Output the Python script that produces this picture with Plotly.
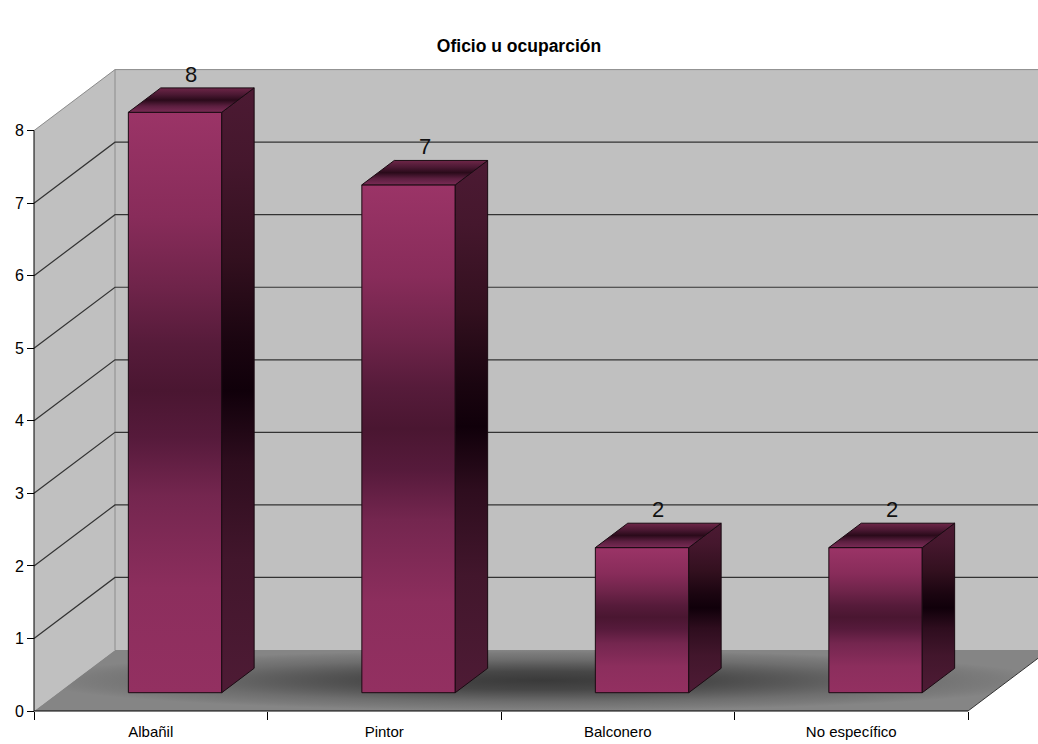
import plotly.graph_objects as go

# ---- data -------------------------------------------------------------
categories = ["Albañil", "Pintor", "Balconero", "No específico"]
values = [8, 7, 2, 2]
y_ticks = [0, 1, 2, 3, 4, 5, 6, 7, 8]
chart_title = "Oficio u ocuparción"

# ---- oblique "3-D" projection ------------------------------------------
# A point (category c, value v, depth d in 0..1) is drawn at
# (c + KX*d, v + KY*d) on ordinary 2-D axes.
KX = 81 / 233.5
KY = 61 / 72.55
YMAX = y_ticks[-1]
N = len(categories)
BAR_HALF = 0.2          # half bar width, in categories
D0, D1 = 0.3, 0.7       # bar depth range

FONT = "Liberation Sans, Arial, sans-serif"


def proj(c, v, d):
    return c + KX * d, v + KY * d


def poly(points, close=True):
    xs, ys = [], []
    for p in points:
        x, y = proj(*p)
        xs.append(x)
        ys.append(y)
    if close:
        xs.append(xs[0])
        ys.append(ys[0])
    return xs, ys


def segments(list_of_paths):
    xs, ys = [], []
    for path in list_of_paths:
        px, py = poly(path, close=False)
        xs += px + [None]
        ys += py + [None]
    return xs, ys


fig = go.Figure()


def add_fill(points, color=None, gradient=None, line_color=None, line_width=0):
    xs, ys = poly(points)
    kw = dict(x=xs, y=ys, mode="lines", fill="toself", hoverinfo="skip",
              showlegend=False)
    if line_color:
        kw["line"] = dict(color=line_color, width=line_width)
    else:
        kw["line"] = dict(width=0, color="rgba(0,0,0,0)")
    if gradient:
        kw["fillgradient"] = gradient
    else:
        kw["fillcolor"] = color
    fig.add_trace(go.Scatter(**kw))


def add_lines(paths, color, width):
    xs, ys = segments(paths)
    fig.add_trace(go.Scatter(x=xs, y=ys, mode="lines", hoverinfo="skip",
                             showlegend=False,
                             line=dict(color=color, width=width)))


# walls
add_fill([(0, 0, 0), (0, YMAX, 0), (0, YMAX, 1), (0, 0, 1)], color="#c0c0c0")
add_fill([(0, 0, 1), (0, YMAX, 1), (N, YMAX, 1), (N, 0, 1)], color="#c0c0c0")

# floor with a soft radial shading
add_fill([(0, 0, 0), (N, 0, 0), (N, 0, 1), (0, 0, 1)],
         gradient=dict(type="radial",
                       colorscale=[[0.0, "#3a3a3a"], [0.3, "#474747"],
                                   [0.5, "#5a5a5a"], [0.7, "#6e6e6e"],
                                   [0.9, "#7c7c7c"], [1.0, "#858585"]]))

# wall borders
add_lines([[(0, YMAX, 0), (0, YMAX, 1), (N, YMAX, 1)],
           [(0, 0, 1), (0, YMAX, 1)]], "#8c8c8c", 1)

# gridlines along the side and back walls
add_lines([[(0, v, 0), (0, v, 1), (N, v, 1)] for v in y_ticks[1:-1]],
          "#333333", 1.2)

# right edge of the floor
add_lines([[(N, 0, 0), (N, 0, 1)]], "#333333", 1)

# front axis lines
add_lines([[(0, YMAX, 0), (0, 0, 0), (N, 0, 0)]], "#000000", 1)

# ---- bars -------------------------------------------------------------
front_scale = [[0.0, "#933061"], [0.18, "#8c2e5d"], [0.34, "#74264f"],
               [0.44, "#561a3b"], [0.52, "#4a1631"], [0.6, "#561b3a"],
               [0.7, "#6f244a"], [0.82, "#882c5a"], [1.0, "#9b3467"]]
side_scale = [[0.0, "#4e1b35"], [0.22, "#42162c"], [0.38, "#2e0d1e"],
              [0.5, "#10000a"], [0.58, "#1a0510"], [0.72, "#33101f"],
              [0.88, "#45172d"], [1.0, "#4c1a33"]]
top_scale = [[0.0, "#7a2b55"], [0.25, "#5c1f40"], [0.5, "#2a0a1a"],
             [0.72, "#4a1832"], [1.0, "#6e2648"]]
EDGE = "#1a0a12"

for i, val in enumerate(values):
    cx = i + 0.5
    x0, x1 = cx - BAR_HALF, cx + BAR_HALF
    add_fill([(x0, 0, D0), (x1, 0, D0), (x1, val, D0), (x0, val, D0)],
             gradient=dict(type="vertical", colorscale=front_scale),
             line_color=EDGE, line_width=1)
    add_fill([(x1, 0, D0), (x1, 0, D1), (x1, val, D1), (x1, val, D0)],
             gradient=dict(type="vertical", colorscale=side_scale),
             line_color=EDGE, line_width=1)
    add_fill([(x0, val, D0), (x1, val, D0), (x1, val, D1), (x0, val, D1)],
             gradient=dict(type="vertical", colorscale=top_scale),
             line_color=EDGE, line_width=1)
    lx, _ = proj(cx, val, 0.5)
    _, ly = proj(cx, val, D1)
    fig.add_annotation(x=lx, y=ly, xref="x", yref="y", text=str(val),
                       showarrow=False, yanchor="bottom", yshift=-1,
                       font=dict(family=FONT, size=22, color="#111111"))

# ---- axes & layout ----------------------------------------------------
W, H = 1038, 744
ML, MB = 20, 24
SX, SY = 233.5, 72.55
X0 = -(34 - ML) / SX
X1 = X0 + (W - ML) / SX
Y1 = 711 / SY
Y0 = Y1 - (H - MB) / SY

fig.update_layout(
    width=W, height=H, autosize=False,
    margin=dict(l=ML, r=0, t=0, b=MB),
    paper_bgcolor="white", plot_bgcolor="white",
    title=dict(text="<b>" + chart_title + "</b>", x=0.5, xref="container",
               xanchor="center", y=1 - 46 / H, yref="container",
               yanchor="middle",
               font=dict(family=FONT, size=17.5, color="#000000")),
    xaxis=dict(range=[X0, X1], anchor="free", position=(H - MB - 711) / (H - MB),
               tickmode="array", tickvals=[i + 0.5 for i in range(N)],
               ticktext=categories, ticks="", showgrid=False,
               zeroline=False, showline=False, fixedrange=True,
               ticklabelstandoff=10,
               tickfont=dict(family=FONT, size=15, color="#000000"),
               minor=dict(tickmode="array", tickvals=list(range(N + 1)),
                          ticks="outside", ticklen=8, tickwidth=1,
                          tickcolor="#000000", showgrid=False)),
    yaxis=dict(range=[Y0, Y1], anchor="free", position=(34 - ML) / (W - ML),
               tickmode="array", tickvals=y_ticks,
               ticktext=[str(t) for t in y_ticks],
               ticks="outside", ticklen=7, tickwidth=1, tickcolor="#000000",
               showgrid=False, zeroline=False, showline=False,
               fixedrange=True,
               tickfont=dict(family=FONT, size=16, color="#000000")),
)

fig.write_html("out.html")
